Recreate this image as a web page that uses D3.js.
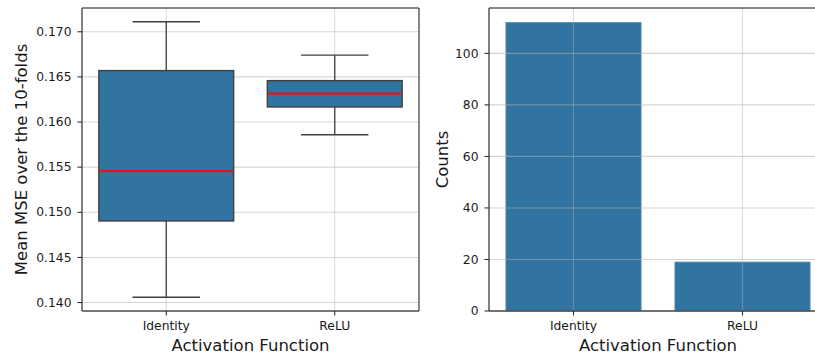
<!DOCTYPE html>
<html>
<head>
<meta charset="utf-8">
<script src="https://cdn.jsdelivr.net/npm/d3@7/dist/d3.min.js"></script>
<style>
  html, body { margin: 0; padding: 0; background: #fff; }
  svg { display: block; font-family: "DejaVu Sans", sans-serif; }
</style>
</head>
<body>
<svg id="chart" width="815" height="358"></svg>
<script>
// Activation functions compared in both panels
const categories = ["Identity", "ReLU"];

// Box summaries of the mean MSE over the 10 folds
const whiskerLow  = [0.14059, 0.15859];
const q1          = [0.14904, 0.16167];
const medians     = [0.15456, 0.16315];
const q3          = [0.16570, 0.16459];
const whiskerHigh = [0.17111, 0.16741];

// How many runs used each activation function
const counts = [112, 19];

const mseTicks   = [0.140, 0.145, 0.150, 0.155, 0.160, 0.165, 0.170];
const countTicks = [0, 20, 40, 60, 80, 100];

const svg = d3.select("#chart");
const BOX_FILL = "#3274a1";
const EDGE = "#3f3f3f";
const GRID = "#b0b0b0";
const TEXT = "#1a1a1a";
const tickFont = 12.3, labelFont = 16.5;

const plotTop = 8, plotBottom = 311;

function bandScale(x0, x1) {
  return d3.scaleBand().domain(categories).range([x0, x1]).padding(0);
}

function drawXAxis(g, xb) {
  categories.forEach(c => {
    const cx = xb(c) + xb.bandwidth() / 2;
    g.append("line").attr("x1", cx).attr("x2", cx).attr("y1", plotBottom).attr("y2", plotBottom + 4.5)
      .attr("stroke", "#222").attr("stroke-width", 1);
    g.append("text").attr("x", cx).attr("y", 330).attr("text-anchor", "middle")
      .attr("font-size", tickFont).attr("fill", TEXT).text(c);
  });
}

function drawYTicks(g, y, ticks, xAxis, fmt) {
  ticks.forEach(t => {
    g.append("line").attr("x1", xAxis - 4.5).attr("x2", xAxis).attr("y1", y(t)).attr("y2", y(t))
      .attr("stroke", "#222").attr("stroke-width", 1);
    g.append("text").attr("x", xAxis - 10.5).attr("y", y(t)).attr("dy", "0.34em")
      .attr("text-anchor", "end").attr("font-size", tickFont).attr("fill", TEXT).text(fmt(t));
  });
}

function drawGrid(g, xb, y, ticks, x0, x1) {
  ticks.forEach(t => {
    g.append("line").attr("x1", x0).attr("x2", x1).attr("y1", y(t)).attr("y2", y(t))
      .attr("stroke", GRID).attr("stroke-opacity", 0.5).attr("stroke-width", 1.1);
  });
  categories.forEach(c => {
    const cx = xb(c) + xb.bandwidth() / 2;
    g.append("line").attr("x1", cx).attr("x2", cx).attr("y1", plotTop).attr("y2", plotBottom)
      .attr("stroke", GRID).attr("stroke-opacity", 0.5).attr("stroke-width", 0.9);
  });
}

function drawSpines(g, x0, x1) {
  g.append("line").attr("x1", x0).attr("x2", x1).attr("y1", plotTop).attr("y2", plotTop)
    .attr("stroke", "#111").attr("stroke-width", 1);
  g.append("line").attr("x1", x1).attr("x2", x1).attr("y1", plotTop).attr("y2", plotBottom)
    .attr("stroke", "#111").attr("stroke-width", 1);
  g.append("line").attr("x1", x0).attr("x2", x0).attr("y1", plotTop).attr("y2", plotBottom)
    .attr("stroke", "#4a4a4a").attr("stroke-width", 1.4);
  g.append("line").attr("x1", x0).attr("x2", x1).attr("y1", plotBottom).attr("y2", plotBottom)
    .attr("stroke", "#4a4a4a").attr("stroke-width", 1.4);
}

// ---------- Left panel: box plot of mean MSE ----------
{
  const x0 = 82, x1 = 419;
  const g = svg.append("g");
  const xb = bandScale(x0, x1);
  const lo = d3.min(whiskerLow), hi = d3.max(whiskerHigh);
  const pad = (hi - lo) * 0.05;
  const y = d3.scaleLinear().domain([lo - pad, hi + pad]).range([plotBottom, plotTop]);

  drawGrid(g, xb, y, mseTicks, x0, x1);

  categories.forEach((c, i) => {
    const bw = xb.bandwidth();
    const cx = xb(c) + bw / 2;
    const boxW = bw * 0.8, capW = bw * 0.4;
    // whiskers and caps
    g.append("line").attr("x1", cx).attr("x2", cx).attr("y1", y(q3[i])).attr("y2", y(whiskerHigh[i]))
      .attr("stroke", EDGE).attr("stroke-width", 1.3);
    g.append("line").attr("x1", cx).attr("x2", cx).attr("y1", y(q1[i])).attr("y2", y(whiskerLow[i]))
      .attr("stroke", EDGE).attr("stroke-width", 1.3);
    g.append("line").attr("x1", cx - capW / 2).attr("x2", cx + capW / 2)
      .attr("y1", y(whiskerHigh[i])).attr("y2", y(whiskerHigh[i]))
      .attr("stroke", EDGE).attr("stroke-width", 1.3);
    g.append("line").attr("x1", cx - capW / 2).attr("x2", cx + capW / 2)
      .attr("y1", y(whiskerLow[i])).attr("y2", y(whiskerLow[i]))
      .attr("stroke", EDGE).attr("stroke-width", 1.3);
    // interquartile box
    g.append("rect").attr("x", cx - boxW / 2).attr("y", y(q3[i]))
      .attr("width", boxW).attr("height", y(q1[i]) - y(q3[i]))
      .attr("fill", BOX_FILL).attr("stroke", EDGE).attr("stroke-width", 1.4);
    // median
    g.append("line").attr("x1", cx - boxW / 2 + 0.7).attr("x2", cx + boxW / 2 - 0.7)
      .attr("y1", y(medians[i])).attr("y2", y(medians[i]))
      .attr("stroke", "#e0141e").attr("stroke-width", 2.2);
  });

  drawSpines(g, x0, x1);
  drawYTicks(g, y, mseTicks, x0, d3.format(".3f"));
  drawXAxis(g, xb);

  g.append("text").attr("x", (x0 + x1) / 2).attr("y", 351).attr("text-anchor", "middle")
    .attr("font-size", labelFont).attr("fill", TEXT).text("Activation Function");
  g.append("text").attr("transform", `translate(27,${(plotTop + plotBottom) / 2}) rotate(-90)`)
    .attr("text-anchor", "middle").attr("font-size", labelFont).attr("fill", TEXT)
    .text("Mean MSE over the 10-folds");
}

// ---------- Right panel: bar chart of counts ----------
{
  const x0 = 489, x1 = 827;
  const g = svg.append("g");
  const xb = bandScale(x0, x1);
  const y = d3.scaleLinear().domain([0, d3.max(counts) * 1.05]).range([plotBottom, plotTop]);

  categories.forEach((c, i) => {
    const bw = xb.bandwidth();
    const cx = xb(c) + bw / 2;
    const barW = bw * 0.8;
    g.append("rect").attr("x", cx - barW / 2).attr("y", y(counts[i]))
      .attr("width", barW).attr("height", y(0) - y(counts[i]))
      .attr("fill", BOX_FILL).attr("stroke", "#5a8fb5").attr("stroke-width", 0.8);
  });

  drawGrid(g, xb, y, countTicks, x0, x1);
  drawSpines(g, x0, x1);
  drawYTicks(g, y, countTicks, x0, d3.format("d"));
  drawXAxis(g, xb);

  g.append("text").attr("x", (x0 + x1) / 2).attr("y", 351).attr("text-anchor", "middle")
    .attr("font-size", labelFont).attr("fill", TEXT).text("Activation Function");
  g.append("text").attr("transform", `translate(448,${(plotTop + plotBottom) / 2}) rotate(-90)`)
    .attr("text-anchor", "middle").attr("font-size", labelFont).attr("fill", TEXT)
    .text("Counts");
}
</script>
</body>
</html>
